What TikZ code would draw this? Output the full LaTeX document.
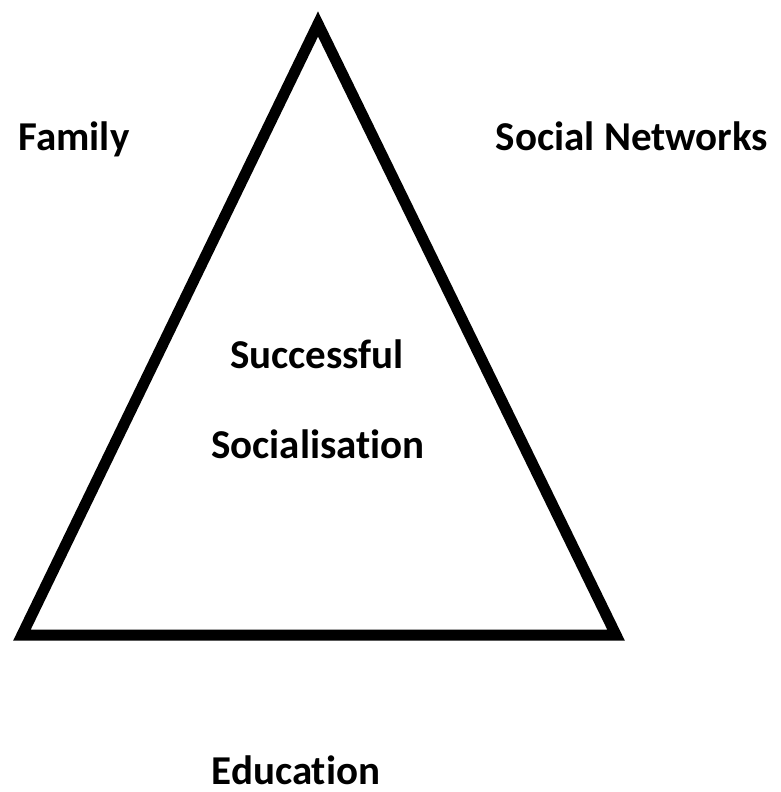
\documentclass[tikz,border=0pt]{standalone}
\usepackage{fontspec}
\setmainfont{Carlito}[RawFeature={-liga;-calt;-clig;-dlig}]
% separate t and i so they are not joined into one glyph
\newcommand{\tisep}{\kern0pt\relax}
\begin{document}
\begin{tikzpicture}[x=1pt,y=-1pt,
  label/.style={font=\fontsize{41}{49}\selectfont\bfseries, inner sep=0pt, anchor=base},
  frame/.style={line width=11pt, line join=miter}]
  \useasboundingbox (0,0) rectangle (780,792);
  % triangle corners
  \coordinate (top) at (318,24);
  \coordinate (bl) at (22,635);
  \coordinate (br) at (616,635);
  \draw[frame] (top) -- (bl) -- (br) -- cycle;
  % labels
  \node[label] (family) at (74,150) {Family};
  \node[label] (social) at (632,150) {Social Networks};
  \node[label] (succ) at (317,368) {Successful};
  \node[label] (socia) at (318,458) {Socialisat\tisep ion};
  \node[label] (edu) at (296,784) {Educat\tisep ion};
\end{tikzpicture}
\end{document}
